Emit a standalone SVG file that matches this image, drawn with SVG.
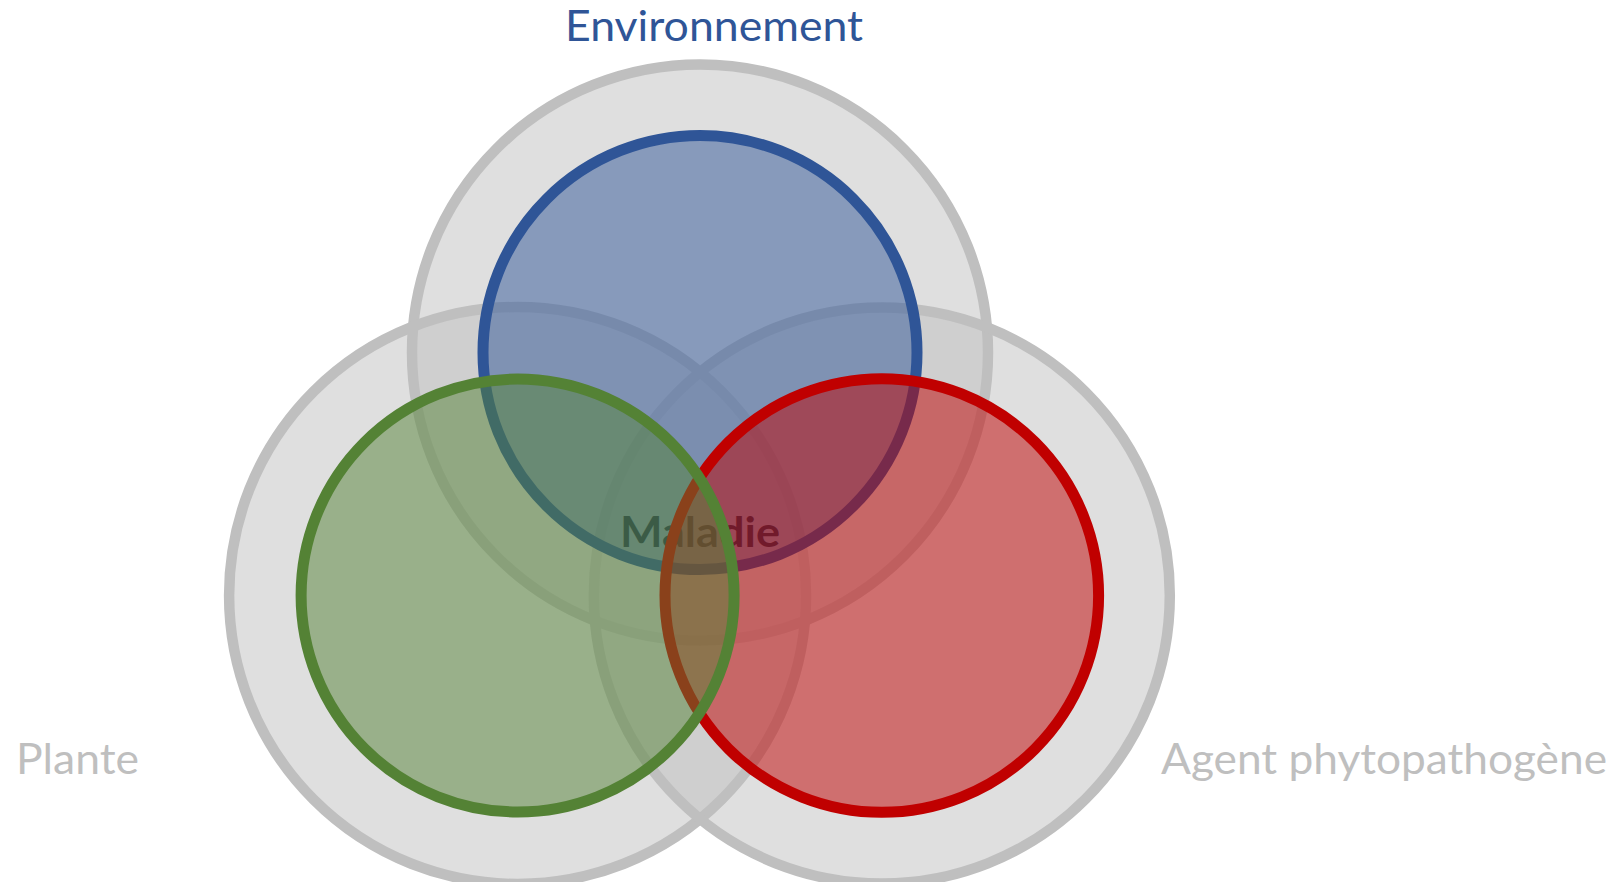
<svg xmlns="http://www.w3.org/2000/svg" width="1617" height="882" viewBox="0 0 1617 882">
  <style>
    .outer { fill: #bfbfbf; fill-opacity: 0.5; stroke: #bfbfbf; stroke-width: 10.5; }
    .ring { stroke-width: 11; fill-opacity: 0.5; }
    .label { font-family: Lato, "Open Sans", "Liberation Sans", sans-serif; font-size: 42.5px; }
    .side { fill: #bfbfbf; }
  </style>
  <rect width="1617" height="882" fill="#ffffff"/>

  <!-- outer context circles -->
  <g id="context-environment">
    <circle class="outer" cx="700" cy="352.5" r="288"/>
  </g>
  <g id="context-plant">
    <circle class="outer" cx="517.6" cy="595.5" r="288.5"/>
  </g>
  <g id="context-pathogen">
    <circle class="outer" cx="881.8" cy="595.5" r="288"/>
  </g>

  <!-- centre label sits beneath the tinted discs -->
  <g id="disease">
    <text x="700" y="546.5" text-anchor="middle" class="label" font-weight="bold" font-size="43.5" fill="#141414" textLength="160" lengthAdjust="spacingAndGlyphs">Maladie</text>
  </g>

  <!-- main factor discs -->
  <g id="environment">
    <circle class="ring" cx="700" cy="352.5" r="217" fill="#2f5597" stroke="#2f5597"/>
  </g>
  <g id="pathogen">
    <circle class="ring" cx="881.8" cy="595.5" r="216.8" fill="#c00000" stroke="#c00000"/>
  </g>
  <g id="plant">
    <circle class="ring" cx="517.6" cy="595.5" r="216.5" fill="#548235" stroke="#548235"/>
  </g>

  <!-- titles -->
  <g id="title-environment">
    <text x="714" y="40.7" text-anchor="middle" class="label" fill="#2f5597" textLength="298" lengthAdjust="spacingAndGlyphs">Environnement</text>
  </g>
  <g id="title-plant">
    <text x="16" y="774.3" class="label side" textLength="123" lengthAdjust="spacingAndGlyphs">Plante</text>
  </g>
  <g id="title-pathogen">
    <text x="1161" y="774.3" class="label side" textLength="446" lengthAdjust="spacingAndGlyphs">Agent phytopathogène</text>
  </g>

  <g id="connectors"/>
</svg>
